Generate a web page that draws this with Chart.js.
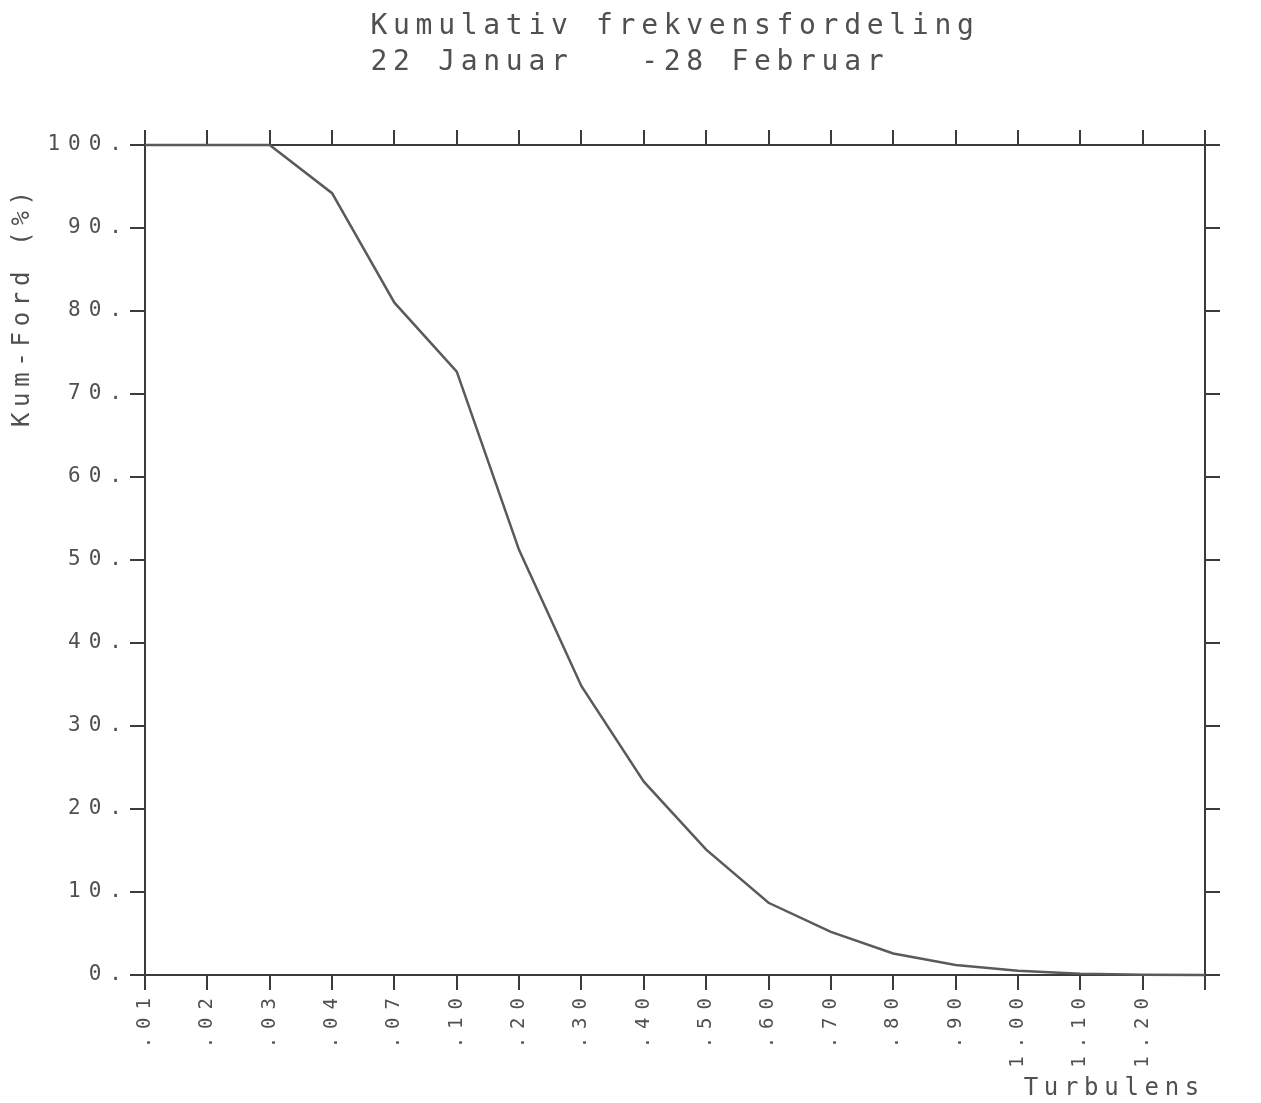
<!DOCTYPE html>
<html>
<head>
<meta charset="utf-8">
<script src="https://cdn.jsdelivr.net/npm/chart.js@4.4.0/dist/chart.umd.min.js"></script>
<style>
  html, body { margin: 0; padding: 0; background: #fff; }
  #chart-container { width: 1261px; height: 1103px; }
</style>
</head>
<body>
<div id="chart-container"><canvas id="myChart" width="1261" height="1103"></canvas></div>
<script>
// turbulence classes along the x axis (last tick has no label)
var turbLabels = ['.01', '.02', '.03', '.04', '.07', '.10', '.20', '.30', '.40', '.50',
                  '.60', '.70', '.80', '.90', '1.00', '1.10', '1.20', ''];
// cumulative frequency, percent
var kumFord = [100, 100, 100, 94.2, 81.0, 72.7, 51.2, 34.8, 23.3, 15.1,
               8.7, 5.2, 2.6, 1.2, 0.5, 0.15, 0.03, 0];
var yMin = 0;
var yMax = 100;
var yStep = 10;
var titleLines = ['Kumulativ frekvensfordeling', '22 Januar   -28 Februar    '];

var ink = '#3b3b3b';
var txt = '#505050';
var mono = '"DejaVu Sans Mono", "Liberation Mono", monospace';

// plotter lettering is spaced out. titles are drawn before the line,
// tick labels (ticks.z = 1) after it, so each gets its own spacing.
// canvas state resets on resize, so set it every pass
var plotterSpacing = {
  id: 'plotterSpacing',
  beforeUpdate: function(chart) { chart.ctx.letterSpacing = '5.7px'; },
  beforeDraw: function(chart) { chart.ctx.letterSpacing = '5.7px'; },
  afterDatasetsDraw: function(chart) { chart.ctx.letterSpacing = '8px'; }
};

var frameGrid = { drawOnChartArea: false, drawTicks: true, tickLength: 15, color: ink, lineWidth: 2 };
var frameBorder = { display: true, color: ink, width: 2 };

var ctx1 = document.getElementById('myChart');
var myChart1 = new Chart(ctx1, {
  type: 'line',
  data: {
    labels: turbLabels,
    datasets: [{
      data: kumFord,
      borderColor: '#5a5a5a',
      borderWidth: 2.5,
      pointRadius: 0,
      tension: 0,
      fill: false,
      clip: false
    }]
  },
  options: {
    responsive: false,
    animation: false,
    devicePixelRatio: 1,
    layout: { padding: 0 },
    plugins: {
      legend: { display: false },
      tooltip: { enabled: false },
      title: {
        display: true,
        fullSize: false,
        text: titleLines,
        color: txt,
        font: { family: mono, size: 28, weight: 'normal', lineHeight: 36 / 28 },
        padding: { top: 9, bottom: 0 }
      }
    },
    scales: {
      x: {
        type: 'category',
        position: 'bottom',
        offset: false,
        grid: frameGrid,
        border: frameBorder,
        ticks: {
          z: 1,
          autoSkip: false,
          minRotation: 90,
          maxRotation: 90,
          padding: 0,
          color: txt,
          font: { family: mono, size: 19 }
        },
        title: {
          display: true,
          text: 'Turbulens',
          align: 'end',
          color: txt,
          font: { family: mono, size: 24 },
          padding: { top: 0, bottom: 0 }
        },
        afterFit: function(scale) { scale.height = 128; }
      },
      xTop: {
        type: 'category',
        position: 'top',
        labels: turbLabels,
        offset: false,
        grid: frameGrid,
        border: frameBorder,
        ticks: { display: false, autoSkip: false },
        afterFit: function(scale) { scale.height = 64; }
      },
      y: {
        type: 'linear',
        position: 'left',
        min: yMin,
        max: yMax,
        grid: frameGrid,
        border: frameBorder,
        ticks: {
          z: 1,
          stepSize: yStep,
          padding: 0,
          color: txt,
          font: { family: mono, size: 21 },
          callback: function(v) { return v + '.'; }
        },
        title: {
          display: true,
          text: 'Kum-Ford (%)  ',
          align: 'end',
          color: txt,
          font: { family: mono, size: 24 },
          padding: { top: 8, bottom: 0 }
        },
        afterFit: function(scale) { scale.width = 145; }
      },
      y2: {
        type: 'linear',
        position: 'right',
        min: yMin,
        max: yMax,
        grid: frameGrid,
        border: frameBorder,
        ticks: { stepSize: yStep, display: false },
        afterFit: function(scale) { scale.width = 56; }
      }
    }
  },
  plugins: [plotterSpacing]
});
</script>
</body>
</html>
